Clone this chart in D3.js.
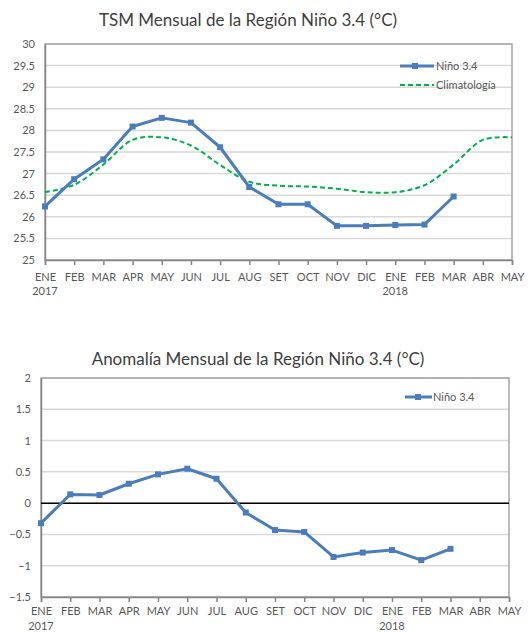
<!DOCTYPE html>
<html>
<head>
<meta charset="utf-8">
<script src="https://cdn.jsdelivr.net/npm/d3@7"></script>
<style>
  body { margin: 0; background: #fff; }
  svg text { font-family: Lato, "Open Sans", sans-serif; }
</style>
</head>
<body>
<div class="chartWrapper"></div>
<script>
const months = ["ENE","FEB","MAR","APR","MAY","JUN","JUL","AUG","SET","OCT","NOV","DIC","ENE","FEB","MAR","ABR","MAY"];
const years = [{ idx: 0, label: "2017" }, { idx: 12, label: "2018" }];

const nino34 = [26.24, 26.87, 27.33, 28.09, 28.29, 28.18, 27.61, 26.69, 26.29, 26.29, 25.79, 25.79, 25.81, 25.82, 26.47];
const climatologia = [26.57, 26.74, 27.21, 27.78, 27.84, 27.65, 27.2, 26.81, 26.72, 26.7, 26.65, 26.57, 26.57, 26.73, 27.21, 27.78, 27.84];
const anomalia = [-0.32, 0.14, 0.13, 0.31, 0.46, 0.55, 0.39, -0.15, -0.43, -0.46, -0.86, -0.79, -0.75, -0.91, -0.73];

const sstTicks = [25, 25.5, 26, 26.5, 27, 27.5, 28, 28.5, 29, 29.5, 30];
const anomTicks = [-1.5, -1, -0.5, 0, 0.5, 1, 1.5, 2];

const blue = "#4a7ebb", green = "#00b050", labelGray = "#595959";

const svg = d3.select(".chartWrapper").append("svg")
    .attr("width", 532)
    .attr("height", 632);

function drawPanel(opts) {
  const g = svg.append("g");
  const x = d3.scalePoint().domain(d3.range(months.length)).range([opts.left, opts.right]);
  const y = d3.scaleLinear().domain(opts.domain).range([opts.bottom, opts.top]);

  g.append("text")
    .attr("x", opts.titleX).attr("y", opts.titleY)
    .attr("text-anchor", "middle")
    .attr("font-size", 17)
    .attr("fill", "#404040")
    .text(opts.title);

  // gridlines
  g.selectAll(".grid").data(opts.ticks).join("line")
    .attr("x1", opts.left).attr("x2", opts.right)
    .attr("y1", d => y(d)).attr("y2", d => y(d))
    .attr("stroke", "#d9d9d9").attr("stroke-width", 1.5);

  // plot border
  g.append("rect")
    .attr("x", opts.left).attr("y", opts.top)
    .attr("width", opts.right - opts.left).attr("height", opts.bottom - opts.top)
    .attr("fill", "none").attr("stroke", "#a6a6a6").attr("stroke-width", 1.5);

  // y axis
  const yAxis = g.append("g")
    .attr("transform", `translate(${opts.left},0)`)
    .call(d3.axisLeft(y).tickValues(opts.ticks).tickSize(0).tickPadding(10).tickFormat(d3.format("")));
  yAxis.select(".domain").attr("stroke", "#868686").attr("stroke-width", 1.5);
  yAxis.selectAll("text").attr("font-size", 11).attr("fill", labelGray).attr("font-family", "Lato, sans-serif");

  // x axis
  const xAxis = g.append("g")
    .attr("transform", `translate(0,${opts.bottom})`)
    .call(d3.axisBottom(x).tickSize(5).tickPadding(opts.monthPad).tickFormat(i => months[i]));
  xAxis.select(".domain").attr("stroke", "#868686").attr("stroke-width", 1.5);
  xAxis.selectAll("line").attr("stroke", "#868686").attr("stroke-width", 1.5);
  xAxis.selectAll("text").attr("font-size", 11).attr("fill", labelGray).attr("font-family", "Lato, sans-serif");

  g.selectAll(".year").data(years).join("text")
    .attr("x", d => x(d.idx)).attr("y", opts.bottom + opts.yearOffset)
    .attr("text-anchor", "middle")
    .attr("font-size", 11).attr("fill", labelGray)
    .text(d => d.label);

  return { g, x, y };
}

// ---- Top chart: TSM
const sstChart = drawPanel({
  title: "TSM Mensual de la Región Niño 3.4 (°C)", titleX: 248, titleY: 26,
  left: 45, right: 512, top: 44, bottom: 260,
  domain: [25, 30], ticks: sstTicks, monthPad: 8, yearOffset: 35
});

sstChart.g.append("path")
  .datum(climatologia)
  .attr("fill", "none").attr("stroke", green).attr("stroke-width", 2)
  .attr("stroke-dasharray", "5,3")
  .attr("d", d3.line().x((d, i) => sstChart.x(i)).y(d => sstChart.y(d)).curve(d3.curveCatmullRom.alpha(0.5)));

sstChart.g.append("path")
  .datum(nino34)
  .attr("fill", "none").attr("stroke", blue).attr("stroke-width", 3)
  .attr("stroke-linejoin", "round")
  .attr("d", d3.line().x((d, i) => sstChart.x(i)).y(d => sstChart.y(d)));

sstChart.g.selectAll(".marker").data(nino34).join("rect")
  .attr("x", (d, i) => sstChart.x(i) - 3).attr("y", d => sstChart.y(d) - 3)
  .attr("width", 6).attr("height", 6).attr("fill", blue);

// legend
const leg1 = sstChart.g.append("g");
leg1.append("line").attr("x1", 400).attr("x2", 434).attr("y1", 66).attr("y2", 66)
  .attr("stroke", blue).attr("stroke-width", 3);
leg1.append("rect").attr("x", 412).attr("y", 63).attr("width", 6).attr("height", 6).attr("fill", blue);
leg1.append("text").attr("x", 436).attr("y", 70).attr("font-size", 11).attr("fill", labelGray).text("Niño 3.4");
leg1.append("line").attr("x1", 400).attr("x2", 434).attr("y1", 85).attr("y2", 85)
  .attr("stroke", green).attr("stroke-width", 2).attr("stroke-dasharray", "5,3");
leg1.append("text").attr("x", 436).attr("y", 89).attr("font-size", 11).attr("fill", labelGray).text("Climatología");

// ---- Bottom chart: anomaly
const anomChart = drawPanel({
  title: "Anomalía Mensual de la Región Niño 3.4 (°C)", titleX: 258, titleY: 365,
  left: 41, right: 509, top: 378, bottom: 597,
  domain: [-1.5, 2], ticks: anomTicks, monthPad: 5, yearOffset: 33
});

anomChart.g.append("line")
  .attr("x1", 41).attr("x2", 509)
  .attr("y1", anomChart.y(0)).attr("y2", anomChart.y(0))
  .attr("stroke", "#000").attr("stroke-width", 1.5);

anomChart.g.append("path")
  .datum(anomalia)
  .attr("fill", "none").attr("stroke", blue).attr("stroke-width", 3)
  .attr("stroke-linejoin", "round")
  .attr("d", d3.line().x((d, i) => anomChart.x(i)).y(d => anomChart.y(d)));

anomChart.g.selectAll(".marker").data(anomalia).join("rect")
  .attr("x", (d, i) => anomChart.x(i) - 3).attr("y", d => anomChart.y(d) - 3)
  .attr("width", 6).attr("height", 6).attr("fill", blue);

const leg2 = anomChart.g.append("g");
leg2.append("line").attr("x1", 405).attr("x2", 432).attr("y1", 397).attr("y2", 397)
  .attr("stroke", blue).attr("stroke-width", 3);
leg2.append("rect").attr("x", 415).attr("y", 394).attr("width", 6).attr("height", 6).attr("fill", blue);
leg2.append("text").attr("x", 433).attr("y", 401).attr("font-size", 11).attr("fill", labelGray).text("Niño 3.4");
</script>
</body>
</html>
